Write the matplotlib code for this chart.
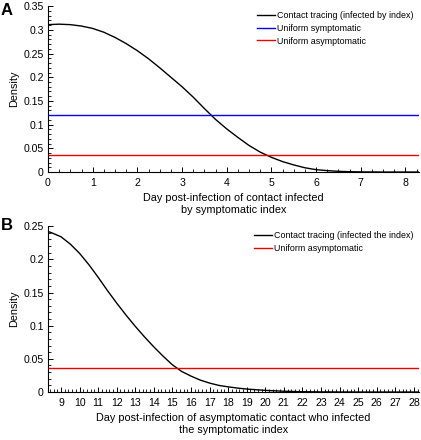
import matplotlib
matplotlib.use("Agg")
import matplotlib.pyplot as plt
from matplotlib.ticker import MultipleLocator, FuncFormatter

plt.rcParams['font.family'] = ['Liberation Sans', 'DejaVu Sans']

# Panel A data
a_day = [0, 0.25, 0.5, 0.75, 1.0, 1.25, 1.5, 1.75, 2.0, 2.25, 2.5, 2.75, 3.0, 3.25,
         3.5, 3.75, 4.0, 4.25, 4.5, 4.75, 5.0, 5.25, 5.5, 5.75, 6.0, 6.25, 6.5,
         6.75, 7.0, 7.5, 8.3]
a_contact = [0.311, 0.312, 0.311, 0.308, 0.303, 0.295, 0.284, 0.271, 0.256, 0.239,
             0.220, 0.200, 0.180, 0.158, 0.134, 0.111, 0.091, 0.073, 0.056, 0.042,
             0.031, 0.022, 0.015, 0.009, 0.005, 0.003, 0.0015, 0.0007, 0.0003, 0.0, 0.0]
a_uniform_sym = 0.12
a_uniform_asym = 0.0357
a_labels = ["Contact tracing (infected by index)", "Uniform symptomatic", "Uniform asymptomatic"]

# Panel B data
b_day = [8.3, 8.5, 9.0, 9.5, 10, 10.5, 11, 11.5, 12, 12.5, 13, 13.5, 14, 14.5, 15,
         15.5, 16, 16.5, 17, 17.5, 18, 18.5, 19, 20, 21, 22, 23, 24, 25, 28.27]
b_contact = [0.242, 0.240, 0.234, 0.223, 0.209, 0.192, 0.173, 0.153, 0.134, 0.116,
             0.099, 0.083, 0.068, 0.054, 0.041, 0.031, 0.024, 0.018, 0.0135, 0.010,
             0.0078, 0.006, 0.0045, 0.0025, 0.0012, 0.0005, 0.0002, 0.0001, 0.0, 0.0]
b_uniform_asym = 0.0357
b_labels = ["Contact tracing (infected the index)", "Uniform asymptomatic"]

fig = plt.figure(figsize=(4.21, 4.40), dpi=100)
axA = fig.add_axes([0.114, 0.609, 0.881, 0.377])
axB = fig.add_axes([0.114, 0.109, 0.881, 0.377])

def fmt(v, pos):
    s = ('%.2f' % v).rstrip('0').rstrip('.')
    return s

def style(ax):
    for s in ['top', 'right']:
        ax.spines[s].set_visible(False)
    for s in ['left', 'bottom']:
        ax.spines[s].set_linewidth(0.8)
    ax.tick_params(which='major', direction='in', length=3.5, width=0.7, labelsize=7.6, pad=4.5)
    ax.tick_params(which='minor', direction='in', length=2, width=0.6)
    ax.tick_params(axis='y', which='major', pad=3)
    ax.yaxis.set_major_formatter(FuncFormatter(fmt))
    ax.yaxis.set_minor_locator(MultipleLocator(0.01))
    ax.set_ylabel("Density", fontsize=7.8, labelpad=3)

lw = 1.0
axA.plot(a_day, a_contact, color='black', lw=lw, label=a_labels[0])
axA.axhline(a_uniform_sym, color='#0000ee', lw=lw, label=a_labels[1])
axA.axhline(a_uniform_asym, color='#ee0000', lw=lw, label=a_labels[2])
axA.set_xlim(0, 8.3)
axA.set_ylim(0, 0.35)
axA.xaxis.set_major_locator(MultipleLocator(1))
axA.xaxis.set_minor_locator(MultipleLocator(0.25))
axA.yaxis.set_major_locator(MultipleLocator(0.05))
style(axA)
axA.set_xlabel("Day post-infection of contact infected\nby symptomatic index", fontsize=7.8,
               labelpad=3.5, linespacing=1.25)
axA.legend(loc='upper right', frameon=False, fontsize=6.4, handlelength=2.1,
           handletextpad=0.2, labelspacing=0.4, borderaxespad=0.2, bbox_to_anchor=(1.0, 1.0))

axB.plot(b_day, b_contact, color='black', lw=lw, label=b_labels[0])
axB.axhline(b_uniform_asym, color='#ee0000', lw=lw, label=b_labels[1])
axB.set_xlim(8.3, 28.27)
axB.set_ylim(0, 0.25)
axB.xaxis.set_major_locator(MultipleLocator(1))
axB.xaxis.set_minor_locator(MultipleLocator(0.2))
axB.yaxis.set_major_locator(MultipleLocator(0.05))
style(axB)
axB.set_xlabel("Day post-infection of asymptomatic contact who infected\nthe symptomatic index",
               fontsize=7.8, labelpad=3.5, linespacing=1.25)
axB.legend(loc='upper right', frameon=False, fontsize=6.4, handlelength=2.1,
           handletextpad=0.2, labelspacing=0.4, borderaxespad=0.2, bbox_to_anchor=(1.0, 1.0))

fig.text(0.002, 0.976, "A", fontsize=12, fontweight='bold', va='center', ha='left')
fig.text(0.002, 0.487, "B", fontsize=12, fontweight='bold', va='center', ha='left')

fig.savefig("out.png", dpi=100)
